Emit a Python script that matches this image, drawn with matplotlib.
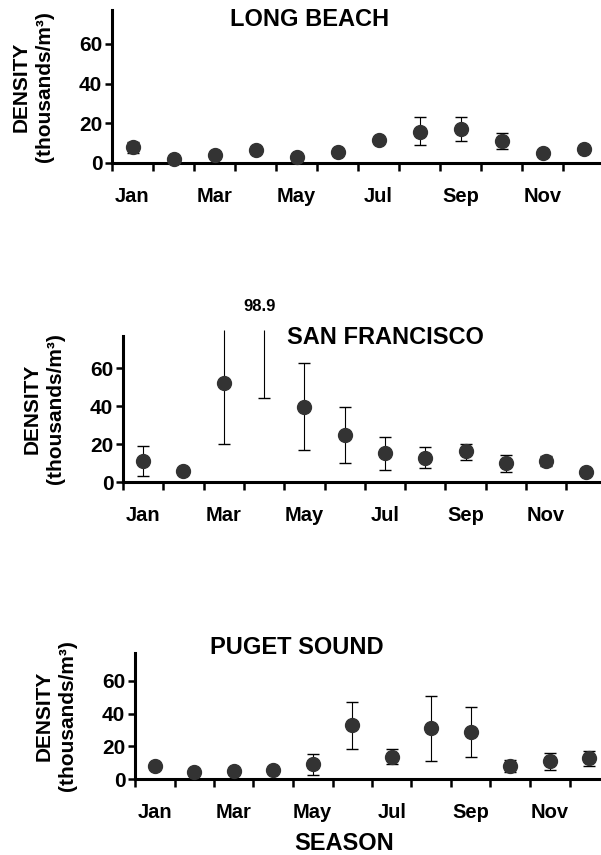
import matplotlib
matplotlib.use("Agg")
import matplotlib.pyplot as plt
import numpy as np

plt.rcParams['font.family'] = ['Liberation Sans', 'DejaVu Sans']
plt.rcParams['font.weight'] = 'bold'

nan = np.nan
months = ['Jan', 'Feb', 'Mar', 'Apr', 'May', 'Jun',
          'Jul', 'Aug', 'Sep', 'Oct', 'Nov', 'Dec']
label_months = ['Jan', 'Mar', 'May', 'Jul', 'Sep', 'Nov']

# Long Beach
lb_mean = [7.9, 2.0, 4.0, 6.4, 3.0, 5.5, 11.7, 15.6, 17.1, 10.9, 5.0, 7.0]
lb_lo = [5.0, nan, nan, nan, nan, nan, nan, 9.0, 10.9, 7.0, nan, nan]
lb_hi = [10.8, nan, nan, nan, nan, nan, nan, 22.9, 22.9, 14.9, nan, nan]

# San Francisco (April mean off the chart)
sf_mean = [10.9, 6.0, 52.1, 98.9, 39.3, 24.9, 15.3, 12.6, 16.1, 10.0, 10.9, 5.1]
sf_lo = [3.0, nan, 20.2, 44.2, 16.7, 10.0, 6.5, 7.2, 11.4, 5.1, 8.2, nan]
sf_hi = [19.1, nan, 84.0, 153.6, 63.0, 39.8, 23.7, 18.2, 20.2, 14.0, 13.5, nan]

# Puget Sound
ps_mean = [8.2, 4.1, 4.9, 5.5, 9.0, 32.9, 13.7, 31.2, 28.6, 8.0, 11.2, 13.1]
ps_lo = [nan, nan, nan, nan, 2.4, 18.4, 9.0, 11.0, 13.5, 4.1, 5.5, 8.2]
ps_hi = [nan, nan, nan, nan, 15.1, 46.9, 18.4, 51.0, 43.7, 11.6, 15.9, 17.3]

CUT = 80.0  # bars are truncated here
W, H = 601, 855


def draw_panel(ax, mean, lo, hi, xmax):
    x = np.arange(len(months)) + 0.5
    mean = np.array(mean); lo = np.array(lo); hi = np.array(hi)
    has = ~np.isnan(lo)
    top = np.minimum(hi, CUT)
    ax.vlines(x[has], lo[has], top[has], color='black', lw=0.8,
              zorder=2, clip_on=False)
    ax.plot(x[has], lo[has], ls='none', marker='_', ms=8, mew=1,
            color='black', zorder=2, clip_on=False)
    capped = has & (hi <= CUT)
    ax.plot(x[capped], hi[capped], ls='none', marker='_', ms=8, mew=1,
            color='black', zorder=2, clip_on=False)
    vis = mean <= CUT
    ax.plot(x[vis], mean[vis], ls='none', marker='o', ms=10,
            color='#333333', zorder=3, clip_on=False)

    ax.set_xlim(0, xmax)
    ax.set_ylim(0, 77)
    ax.set_xticks(np.arange(12))
    ax.set_xticklabels([])
    ax.set_xticks(np.arange(0, 12, 2) + 0.5, minor=True)
    ax.set_xticklabels(label_months, minor=True)
    ax.tick_params(axis='x', which='major', direction='out', length=6,
                   width=1.8)
    ax.tick_params(axis='x', which='minor', length=0, pad=17.5,
                   labelsize=14.5)
    ax.set_yticks([0, 20, 40, 60])
    ax.tick_params(axis='y', direction='out', length=5, width=1.8,
                   pad=2, labelsize=15)
    for s in ['top', 'right']:
        ax.spines[s].set_visible(False)
    for s in ['left', 'bottom']:
        ax.spines[s].set_linewidth(2.2)
    wpx = ax.get_position().width * W
    ax.text(-79 / wpx, 0.5, 'DENSITY\n(thousands/m³)', transform=ax.transAxes,
            rotation=90, ha='center', va='center', multialignment='center',
            linespacing=1.3, fontsize=15)


def px_axes(left, top, bottom):
    return [left / W, 1 - bottom / H, (W - left) / W, (bottom - top) / H]


fig = plt.figure(figsize=(6.01, 8.55), dpi=100)

ax1 = fig.add_axes(px_axes(112, 10, 163))
draw_panel(ax1, lb_mean, lb_lo, lb_hi, 489 / 41.0)
fig.text(310 / W, 1 - 20 / H, 'LONG BEACH', ha='center', va='center',
         fontsize=17)

ax2 = fig.add_axes(px_axes(123, 336, 482))
draw_panel(ax2, sf_mean, sf_lo, sf_hi, 478 / 40.3)
fig.text(385 / W, 1 - 337 / H, 'SAN FRANCISCO', ha='center', va='center',
         fontsize=17)
ax2.text(3.4, 92.5, '%.1f' % sf_mean[3], ha='center', va='center',
         fontsize=12, clip_on=False)

ax3 = fig.add_axes(px_axes(135, 653, 779))
draw_panel(ax3, ps_mean, ps_lo, ps_hi, 466 / 39.5)
fig.text(297 / W, 1 - 647 / H, 'PUGET SOUND', ha='center', va='center',
         fontsize=17)

fig.text(344 / W, 1 - 843 / H, 'SEASON', ha='center', va='center',
         fontsize=17)

fig.savefig('out.png', dpi=100)
